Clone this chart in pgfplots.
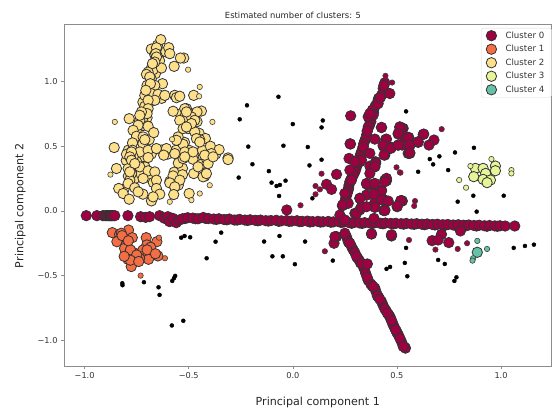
\documentclass[border=0pt]{standalone}
\usepackage{fontspec}
\setmainfont{DejaVu Sans}
\usepackage{pgfplots}
\pgfplotsset{compat=1.18}
\definecolor{c0}{HTML}{9E0142}
\definecolor{c1}{HTML}{F46D43}
\definecolor{c2}{HTML}{FEE08B}
\definecolor{c3}{HTML}{E6F598}
\definecolor{c4}{HTML}{66C2A5}
\definecolor{spine}{gray}{0.55}
\pgfplotsset{
 core/.style={only marks,mark=*,mark size=5.2bp,mark options={draw=black!80,line width=0.8bp,fill=#1}},
 edge/.style={only marks,mark=*,mark size=2.7bp,forget plot,mark options={draw=black!75,line width=0.6bp,fill=#1}},
}
\begin{document}
\begin{tikzpicture}[x=1bp,y=1bp]
\useasboundingbox (0,0) rectangle (552,411);
\begin{axis}[
 at={(64bp,45bp)},anchor=south west,
 scale only axis,width=487.6bp,height=342bp,
 xmin=-1.099,xmax=1.243,ymin=-1.197,ymax=1.444,
 axis line style={spine,line width=0.9bp},
 tick style={spine,line width=0.6bp},
 tick align=outside,major tick length=3bp,
 xtick={-1,-0.5,0,0.5,1},ytick={-1,-0.5,0,0.5,1},
 xticklabels={−1.0,−0.5,0.0,0.5,1.0},yticklabels={−1.0,−0.5,0.0,0.5,1.0},
 ticklabel style={font=\fontsize{8.2bp}{9.5bp}\selectfont,text=black!80},
 xtick pos=lower,ytick pos=left,
 title={Estimated number of clusters: 5},
 title style={at={(0.4696,1)},font=\fontsize{8.4bp}{10bp}\selectfont,text=black!85,yshift=-4.5bp},
 xlabel={Principal component 1},ylabel={Principal component 2},
 label style={font=\fontsize{11.1bp}{12bp}\selectfont,text=black!85},
 xlabel style={xshift=10bp,yshift=-11bp},
 ylabel style={at={(ticklabel cs:0.468)},yshift=5bp},
 legend style={at={(0.8552,1)},anchor=north west,yshift=-4bp,draw=black!15,rounded corners=1.5bp,
   font=\fontsize{8.6bp}{9.5bp}\selectfont,text=black!80,row sep=1.5bp,inner xsep=5bp,inner ysep=1.5bp,
   /tikz/every odd column/.append style={column sep=7bp}},
 legend cell align=left,
 clip=true,
]
\addplot[core=c0] table[row sep=\\]{x y\\
-.992 -.036\\-.941 -.036\\-.912 -.036\\-.900 -.036\\-.893 -.036\\-.885 -.036\\-.880 -.036\\-.875 -.036\\-.870 -.036\\-.864 -.036\\-.855 -.036\\-.792 -.036\\-.731 -.044\\-.707 -.049\\-.688 -.044\\-.640 -.036\\-.616 -.057\\-.600 -.044\\-.592 -.082\\-.576 -.057\\-.560 -.090\\-.544 -.069\\
-.5175 -.058\\-.4675 -.06\\-.4175 -.058\\-.3675 -.065\\-.3175 -.068\\-.2675 -.07\\-.2175 -.073\\-.1675 -.076\\-.1175 -.078\\-.0675 -.08\\-.0175 -.08\\.0325 -.082\\.0825 -.085\\.1325 -.086\\.1825 -.087\\.2325 -.089\\.2825 -.095\\.3325 -.096\\.3825 -.097\\.4325 -.099\\.4825 -.1\\.5325 -.102\\.5825 -.103\\.6325 -.106\\.6825 -.108\\.7325 -.11\\.7825 -.112\\.8325 -.114\\.8825 -.116\\.9325 -.118\\.9825 -.118\\
-.53 -.060\\-.505 -.052\\-.48 -.055\\-.455 -.060\\-.43 -.05\\-.405 -.058\\-.38 -.062\\-.355 -.06\\-.33 -.066\\-.305 -.062\\-.28 -.070\\-.255 -.065\\-.23 -.07\\-.205 -.068\\-.18 -.072\\-.155 -.07\\-.13 -.075\\-.105 -.074\\-.08 -.072\\-.055 -.076\\-.03 -.074\\-.005 -.078\\.02 -.075\\.045 -.08\\.07 -.078\\.095 -.082\\.12 -.08\\.145 -.083\\.17 -.081\\.195 -.084\\.22 -.082\\.245 -.085\\.27 -.09\\.295 -.088\\.32 -.092\\.345 -.09\\.37 -.093\\.395 -.09\\.42 -.095\\.445 -.093\\.47 -.096\\.495 -.095\\.52 -.098\\.545 -.096\\.57 -.1\\.595 -.098\\.62 -.102\\.645 -.1\\.67 -.104\\.695 -.102\\.72 -.106\\.745 -.104\\.77 -.108\\.795 -.106\\.82 -.11\\.845 -.108\\.87 -.112\\.895 -.11\\.92 -.114\\.945 -.112\\.97 -.115\\.995 -.114\\1.02 -.116\\1.066 -.116\\
.258 -.20\\.27 -.245\\.29 -.30\\.31 -.36\\.325 -.40\\.344 -.45\\.362 -.535\\.38 -.575\\.40 -.625\\.412 -.665\\.434 -.73\\.448 -.77\\.46 -.80\\.47 -.83\\.478 -.862\\.488 -.90\\.498 -.93\\.508 -.96\\.522 -1.01\\.536 -1.05\\
.250 -.172\\.266 -.236\\.282 -.275\\.298 -.321\\.318 -.378\\.338 -.429\\.350 -.481\\.374 -.563\\.394 -.596\\.406 -.656\\.426 -.699\\.442 -.756\\.466 -.815\\.482 -.879\\.501 -.943\\.514 -.982\\.541 -1.059\\.530 -1.046\\.454 -.789\\.357 -.512\\.274 -.249\\.306 -.352\\.330 -.404\\.386 -.584\\.418 -.681\\.474 -.846\\.494 -.918\\.358 -.409\\.198 -.249\\.210 -.198\\.378 -.177\\.474 -.193\\.202 -.198\\.474 -.185\\
.412 .87\\.400 .82\\.388 .76\\.375 .69\\.368 .66\\.355 .59\\.345 .54\\.335 .48\\.326 .44\\.318 .40\\.310 .36\\.302 .32\\.294 .29\\.286 .265\\.278 .24\\.268 .18\\.263 .15\\.258 .12\\.248 .06\\
.442 .990\\.434 .946\\.426 .895\\.410 .856\\.394 .805\\.382 .779\\.378 .728\\.370 .702\\.362 .650\\.357 .617\\.350 .560\\.338 .496\\.330 .458\\.322 .419\\.314 .393\\.306 .342\\.298 .303\\.282 .252\\.270 .200\\.266 .162\\.261 .136\\.254 .098\\.242 .046\\.386 .740\\.362 .728\\.370 .753\\.410 .830\\.322 .380\\.466 .907\\.437 .969\\.421 .877\\.341 .522\\.290 .278\\.274 .226\\.250 .072\\
.278 .735\\.275 .519\\.270 .406\\.210 .283\\.162 .206\\.186 .167\\-.029 .008\\
.426 .645\\.394 .555\\.446 .553\\.546 .568\\.514 .650\\.506 .594\\.530 .638\\.434 .501\\.474 .491\\.506 .509\\.554 .445\\.442 .432\\.370 .347\\.394 .342\\.398 .380\\.354 .208\\.389 .208\\.426 .162\\.442 .239\\.450 .234\\.354 .123\\.394 .064\\.434 .090\\.442 .008\\.501 .033\\.522 .080\\.322 .098\\.330 .033\\.298 -.018\\.362 .200\\.394 .149\\.322 .008\\.226 -.031\\
.526 .638\\.626 .591\\.678 .548\\.654 .509\\.602 .530\\.557 .568\\.562 .504\\.562 .445\\.526 .586\\.526 .509\\.526 .077\\.714 -.180\\.669 -.229\\.698 -.224\\.749 -.244\\.805 -.154\\
.238 .041\\.266 .059\\.306 -.018\\.330 .033\\.394 .064\\.437 .003\\.390 -.057\\
.358 .617\\.426 .645\\.514 .645\\.506 .599\\.450 .555\\.434 .509\\.470 .483\\.506 .509\\.554 .568\\.562 .509\\.602 .535\\.629 .594\\.562 .450\\.438 .432\\.277 .517\\.338 .496\\.370 .445\\.398 .368\\.394 .342\\.330 .393\\.298 .380\\.370 .290\\.450 .252\\.442 .226\\.354 .213\\.394 .213\\.426 .154\\.354 .123\\.391 .131\\.322 .098\\.426 .085\\.458 .077\\.518 .080\\.502 .039\\.394 .028\\.442 .003\\.330 .028\\.282 .239\\.250 .136\\.274 .316\\.354 .033\\.378 -.177\\.474 -.185\\.239 .046\\.250 -.069\\
};
\addlegendentry{Cluster 0}
\addplot[edge=c0] table[row sep=\\]{x y\\
.445 1.044\\.477 .992\\.138 .288\\.109 .193\\.130 .167\\.109 .129\\.037 .044\\.498 .337\\.514 .298\\.715 .632\\.517 .296\\.587 .077\\.583 .039\\.558 -.224\\.685 -.298\\.792 -.293\\.837 -.249\\.154 -.311\\
};
\addplot[core=c1] table[row sep=\\]{x y\\
-.867 -.167\\-.832 -.180\\-.813 -.203\\-.789 -.147\\-.771 -.206\\-.845 -.237\\-.800 -.262\\-.704 -.206\\-.653 -.237\\-.701 -.262\\-.683 -.280\\-.720 -.301\\-.800 -.314\\-.765 -.321\\-.792 -.339\\-.648 -.347\\-.720 -.352\\-.776 -.352\\-.693 -.373\\-.792 -.373\\-.760 -.373\\-.736 -.365\\-.776 -.429\\-.824 -.172\\-.808 -.288\\
-.78 -.30\\-.75 -.34\\-.82 -.19\\-.79 -.23\\-.70 -.30\\-.66 -.33\\-.78 -.38\\-.81 -.35\\-.74 -.39\\
};
\addlegendentry{Cluster 1}
\addplot[edge=c1] table[row sep=\\]{x y\\
-.643 -.206\\-.614 -.365\\-.731 -.499\\
};
\addplot[core=c2] table[row sep=\\]{x y\\
-.68 1.25\\-.65 1.28\\-.64 1.22\\-.61 1.23\\-.64 1.16\\-.68 1.10\\-.66 1.06\\-.68 1.02\\-.69 .94\\-.66 .90\\-.63 .87\\-.68 .86\\-.72 .84\\-.70 .72\\-.72 .66\\-.75 .63\\-.74 .55\\-.72 .52\\-.69 .55\\-.79 .47\\-.76 .44\\-.72 .42\\-.68 .44\\-.75 .38\\-.80 .39\\-.71 .34\\-.75 .31\\-.76 .25\\-.73 .29\\-.79 .27\\-.69 .26\\-.67 .22\\-.81 .17\\-.72 .13\\-.59 .23\\-.55 .20\\-.57 .30\\-.53 .33\\-.53 .28\\-.55 .37\\-.50 .47\\-.56 .47\\-.45 .45\\-.43 .42\\-.40 .43\\-.37 .44\\-.46 .69\\-.50 .70\\-.54 .75\\-.50 .76\\-.47 .74\\-.49 .64\\-.45 .60\\-.42 .56\\-.52 .53\\-.60 .44\\-.63 .47\\-.48 .40\\-.44 .36\\
-.634 1.323\\-.655 1.261\\-.596 1.261\\-.663 1.207\\-.591 1.215\\-.524 1.181\\-.540 1.181\\-.570 1.117\\-.671 1.091\\-.695 1.073\\-.703 1.055\\-.631 1.104\\-.626 .983\\-.663 .970\\-.700 .970\\-.711 .893\\-.679 .906\\-.647 .901\\-.615 .893\\-.567 .893\\-.559 .875\\-.543 .886\\-.476 .893\\-.711 .808\\-.687 .842\\-.663 .855\\-.695 .855\\-.575 .770\\-.511 .790\\-.439 .772\\-.460 .765\\-.519 .726\\-.487 .726\\-.543 .700\\-.471 .700\\-.786 .713\\-.719 .721\\-.735 .700\\-.743 .662\\-.695 .654\\-.767 .623\\-.751 .577\\-.668 .605\\-.719 .572\\-.711 .551\\-.551 .572\\-.503 .636\\-.527 .636\\-.471 .611\\-.447 .551\\-.770 .526\\-.527 .515\\-.858 .490\\-.799 .438\\-.770 .469\\-.735 .456\\-.695 .469\\-.655 .482\\-.607 .482\\-.620 .431\\-.567 .443\\-.519 .456\\-.479 .456\\-.434 .469\\-.396 .500\\-.354 .474\\-.391 .443\\-.415 .405\\-.311 .410\\-.767 .418\\-.695 .413\\-.527 .405\\-.770 .353\\-.791 .328\\-.735 .341\\-.847 .328\\-.695 .310\\-.663 .302\\-.775 .289\\-.719 .251\\-.783 .238\\-.575 .271\\-.476 .289\\-.455 .341\\-.407 .366\\-.423 .269\\-.591 .217\\-.543 .238\\-.655 .238\\-.791 .212\\-.759 .179\\-.836 .174\\-.815 .135\\-.743 .148\\-.567 .186\\-.655 .174\\-.572 .127\\-.639 .130\\-.498 .135\\-.679 .078\\-.786 .091\\-.671 .109\\
-.658 1.215\\-.655 1.189\\-.663 1.150\\-.674 1.138\\-.687 1.035\\-.684 .983\\-.706 .932\\-.695 .790\\-.700 .752\\-.727 .765\\-.735 .739\\-.775 .456\\-.783 .418\\-.775 .392\\-.759 .366\\-.783 .302\\-.487 .675\\-.511 .649\\-.463 .559\\-.447 .533\\-.423 .431\\-.383 .418\\-.311 .397\\-.431 .264\\-.415 .289\\-.519 .418\\-.519 .790\\-.511 .765\\-.559 .546\\
};
\addlegendentry{Cluster 2}
\addplot[edge=c2] table[row sep=\\]{x y\\
-.855 .688\\-.503 1.091\\-.447 .958\\-.450 .886\\-.386 .688\\-.580 .554\\-.876 .281\\-.399 .199\\-.447 .135\\-.487 .084\\-.591 .071\\
};
\addplot[core=c3] table[row sep=\\]{x y\\
.877 .329\\.914 .329\\.973 .347\\.973 .311\\.869 .265\\.926 .290\\.914 .244\\.949 .239\\.933 .219\\
};
\addlegendentry{Cluster 3}
\addplot[edge=c3] table[row sep=\\]{x y\\
.954 .401\\.853 .347\\1.050 .316\\1.050 .290\\.799 .239\\.832 .180\\
};
\addplot[core=c4] table[row sep=\\]{x y\\
.886 -.319\\
};
\addlegendentry{Cluster 4}
\addplot[edge=c4] table[row sep=\\]{x y\\
.886 -.231\\.933 -.293\\.866 -.365\\.863 -.383\\
};
\addplot[only marks,mark=*,mark size=2bp,forget plot,mark options={draw=black,fill=black}] table[row sep=\\]{x y\\
-.536 -.206\\-.520 -.193\\-.493 -.203\\-.344 -.167\\-.371 -.237\\-.414 -.365\\-.565 -.501\\-.571 -.519\\-.579 -.540\\-.819 -.558\\-.818 -.573\\-.715 -.550\\-.645 -.589\\-.640 -.648\\-.581 -.884\\-.526 -.848\\
-.220 .816\\-.255 .708\\-.214 .497\\-.194 .361\\-.260 .258\\
-.069 .882\\0 .671\\.144 .699\\.138 .645\\-.045 .504\\.072 .494\\.138 .396\\.080 .352\\-.115 .308\\-.102 .219\\-.035 .234\\-.062 .201\\-.078 .193\\-.066 .116\\.094 .098\\.544 .769\\
.870 .488\\.779 .452\\.704 .422\\.658 .401\\.674 .360\\.746 .316\\.602 .303\\.792 .072\\.867 .118\\1.013 .118\\.883 -.005\\.544 -.285\\1.061 -.285\\1.115 -.270\\1.158 -.260\\.698 -.378\\.730 -.409\\.538 -.401\\
-.138 -.236\\-.064 -.193\\.059 -.236\\-.098 -.350\\-.048 -.350\\.010 -.411\\.192 -.383\\.450 -.447\\.467 -.432\\.550 -.504\\.786 -.512\\.776 -.540\\
};
\end{axis}
\end{tikzpicture}
\end{document}
